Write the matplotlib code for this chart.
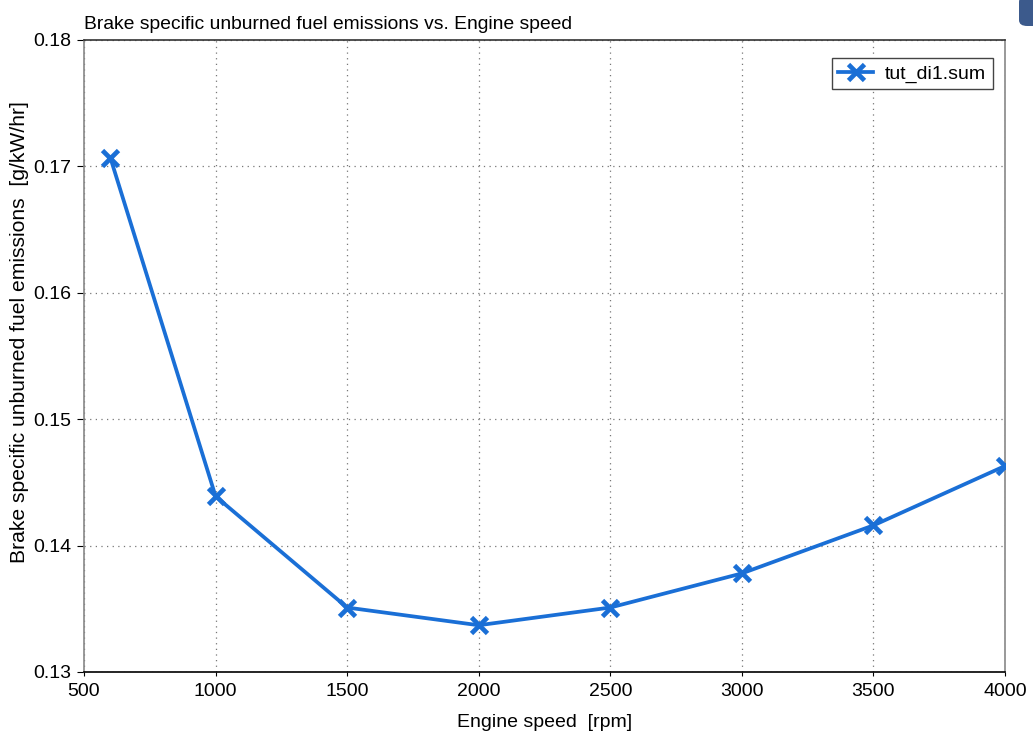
import matplotlib
matplotlib.use("Agg")
import matplotlib.pyplot as plt
from matplotlib.patches import FancyBboxPatch

plt.rcParams['font.family'] = ['Liberation Sans', 'DejaVu Sans']

# Engine speed sweep and brake specific unburned fuel emissions
engine_speed = [600, 1000, 1500, 2000, 2500, 3000, 3500, 4000]
bs_hc = [0.1707, 0.1439, 0.1351, 0.1337, 0.1351, 0.1378, 0.1416, 0.1463]
x_ticks = [500, 1000, 1500, 2000, 2500, 3000, 3500, 4000]
y_ticks = [0.13, 0.14, 0.15, 0.16, 0.17, 0.18]
series_name = "tut_di1.sum"

fig = plt.figure(figsize=(10.33, 7.33), dpi=100)
ax = fig.add_axes([84 / 1033, 1 - 672 / 733, (1005 - 84) / 1033, (672 - 40) / 733])

blue = "#1a6fd6"
ax.plot(engine_speed, bs_hc, color=blue, lw=2.7, marker='x', ms=11, mew=3.4,
        label=series_name, zorder=3)

ax.set_xlim(500, 4000)
ax.set_ylim(0.13, 0.18)
ax.set_xticks(x_ticks)
ax.set_yticks(y_ticks)
ax.set_yticklabels([f"{v:.2f}" for v in y_ticks])
ax.tick_params(axis='both', labelsize=14, direction='out', color='black')
ax.tick_params(axis='x', length=3, pad=5)
ax.tick_params(axis='y', length=5, pad=4)

ax.grid(True, linestyle=(0, (1, 3.5)), color='#777777', lw=0.9)

ax.spines['left'].set_color('#888888')
ax.spines['right'].set_color('#888888')
ax.spines['top'].set_color('#333333')
ax.spines['bottom'].set_color('black')
for s in ax.spines.values():
    s.set_linewidth(1.2)

ax.set_xlabel("Engine speed  [rpm]", fontsize=14, labelpad=10)
ax.set_ylabel("Brake specific unburned fuel emissions  [g/kW/hr]", fontsize=15.2, labelpad=3)
ax.yaxis.set_label_coords(-0.060, 0.538)
ax.set_title("Brake specific unburned fuel emissions vs. Engine speed",
             fontsize=13.9, loc='left', pad=8)

leg = ax.legend(loc='upper right', fontsize=14, fancybox=False, framealpha=1,
                edgecolor='#444444', borderpad=0.35, handlelength=1.8,
                handletextpad=0.6, borderaxespad=0,
                bbox_to_anchor=(1 - 12 / 921, 1 - 18 / 632))
leg.get_frame().set_linewidth(1.0)

# Small rounded badge at the top-right corner of the window
badge = FancyBboxPatch((1019 / 1033, 1 - 26 / 733), 30 / 1033, 30 / 733,
                       boxstyle="round,pad=0,rounding_size=0.008",
                       transform=fig.transFigure, facecolor="#3c5a8c",
                       edgecolor="none", clip_on=False)
fig.patches.append(badge)

fig.savefig("out.png", dpi=100)
